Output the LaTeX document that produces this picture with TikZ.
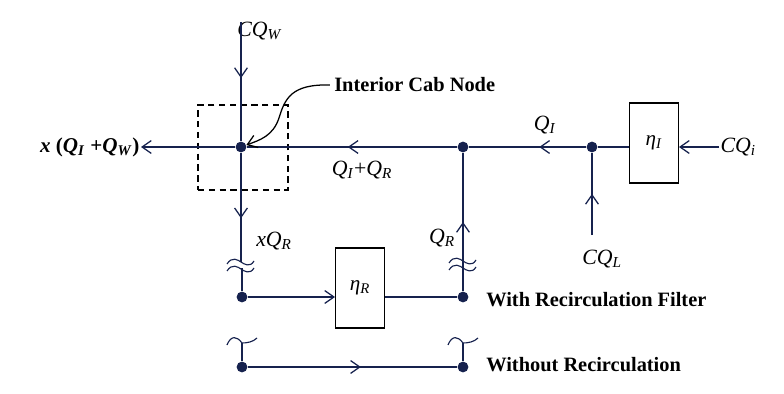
\documentclass[tikz,border=0pt]{standalone}
\usepackage{fontspec}
\setmainfont{Liberation Serif}
\usepackage{tikz}
\usetikzlibrary{arrows.meta,decorations.markings,positioning}
\definecolor{wire}{RGB}{22,34,78}
\newcommand{\qsym}[2]{\textit{#1}\textsubscript{\textit{#2}}}
\tikzset{
  flowline/.style={draw=wire, line width=0.9pt},
  midarrow/.style={postaction={decorate}, decoration={markings,
    mark=at position #1 with {\arrow{Straight Barb[length=2.3mm,width=3.2mm,line width=0.9pt]}}}},
  endarrow/.style={-{Straight Barb[length=2.3mm,width=3.2mm,line width=0.9pt]}},
  junction/.style={circle, fill=wire, inner sep=0pt, minimum size=2.7mm},
  filterbox/.style={rectangle, draw=black, line width=0.8pt, fill=white,
    minimum width=1.22cm, minimum height=2cm, font=\fontsize{15}{17}\selectfont},
  cabzone/.style={rectangle, draw=black, line width=0.9pt, dash pattern=on 1.6mm off 1.1mm,
    minimum width=2.25cm, minimum height=2.12cm},
  flowlabel/.style={font=\fontsize{15.5}{17}\selectfont, inner sep=1pt},
  legendtext/.style={font=\fontsize{14.5}{17}\selectfont\bfseries, anchor=west, inner sep=0pt},
  breakwave/.style={draw=wire, line width=0.8pt},
}

\begin{document}
\begin{tikzpicture}[x=0.025cm, y=-0.025cm]
  \useasboundingbox (0,0) rectangle (784,394);

  % Cab zone and junctions
  \node[cabzone] (zone) at (243,147.5) {};
  \node[junction] (cab) at (241,147) {};
  \node[junction] (recj) at (463,147) {};
  \node[junction] (leakj) at (592,147) {};
  \node[junction] (fin) at (242,297) {};
  \node[junction] (fout) at (463,297) {};
  \node[junction] (bin) at (242,367) {};
  \node[junction] (bout) at (463,367) {};

  % Filters
  \node[filterbox] (etaI) at (654,143) {\textit{η}\textsubscript{\textit{I}}};
  \node[filterbox] (etaR) at (360,288) {\textit{η}\textsubscript{\textit{R}}};

  % Free ends
  \coordinate (wtop) at (241,22);
  \coordinate (lbrk1) at (241,262);
  \coordinate (lbrk2) at (242,268);
  \coordinate (leakbot) at (592,235);
  \coordinate (bcapl) at (242,343);
  \coordinate (bcapr) at (463,343);

  % Labels
  \node[flowlabel, anchor=west, inner sep=0pt] (cqw) at (237,31) {\qsym{CQ}{W}};
  \node[flowlabel, anchor=east, font=\fontsize{15}{17}\selectfont\bfseries] (exh) at (141,147)
    {\textit{x} (\qsym{Q}{I} +\qsym{Q}{W})};
  \node[flowlabel, anchor=west] (cqi) at (719,147) {\qsym{CQ}{i}};
  \node[flowlabel] (qi) at (545,125) {\qsym{Q}{I}};
  \node[flowlabel] (qiqr) at (362,170) {\qsym{Q}{I}+\qsym{Q}{R}};
  \node[flowlabel] (xqr) at (274,241) {\textit{x}\qsym{Q}{R}};
  \node[flowlabel] (qr) at (442,238) {\qsym{Q}{R}};
  \node[flowlabel] (cql) at (602,259) {\qsym{CQ}{L}};
  \node[legendtext] (cablbl) at (334,85) {Interior Cab Node};
  \node[legendtext] (withf) at (486,300) {With Recirculation Filter};
  \node[legendtext] (without) at (486,365) {Without Recirculation};

  % Main duct
  \draw[flowline, endarrow] (cqi.west) -- (cqi.west -| etaI.east);
  \draw[flowline] (leakj -| etaI.west) -- (leakj);
  \draw[flowline, midarrow=0.4] (leakj) -- (recj);
  \draw[flowline, midarrow=0.52] (recj) -- (cab);
  \draw[flowline, endarrow] (cab) -- (exh.east);
  \draw[flowline, midarrow=0.5] (leakbot) -- (leakj);
  \draw[flowline, midarrow=0.47] (wtop) -- (cab);

  % Recirculation loop
  \draw[flowline, midarrow=0.6] (cab) -- (lbrk1);
  \draw[flowline] (lbrk2) -- (fin);
  \draw[flowline, endarrow] (fin) -- (fin -| etaR.west);
  \draw[flowline] (fout -| etaR.east) -- (fout);
  \draw[flowline, midarrow=0.5] (fout) -- (recj);

  % Break marks
  \foreach \bx/\by in {241/262, 241/269, 463/261, 463/268}{
    \draw[breakwave] (\bx-14,\by+2) .. controls (\bx-9,\by-6) and (\bx-3,\by-2) .. (\bx,\by)
      .. controls (\bx+3,\by+2) and (\bx+9,\by+6) .. (\bx+13,\by-1);
  }

  % Without recirculation
  \draw[flowline] (bcapl) -- (bin);
  \draw[flowline] (bcapr) -- (bout);
  \draw[flowline, midarrow=0.54] (bin) -- (bout);
  \foreach \bx in {242,463}{
    \draw[breakwave] (\bx-15,345) .. controls (\bx-11,335) and (\bx-5,336) .. (\bx,343)
      .. controls (\bx+5,343) and (\bx+11,342) .. (\bx+15,338);
  }

  % Pointer to the cab node
  \draw[line width=0.9pt, endarrow] ([xshift=-3pt]cablbl.west) .. controls (292,84) and (285,98) .. (279,118)
    .. controls (273,136) and (260,140) .. (cab);
\end{tikzpicture}
\end{document}
